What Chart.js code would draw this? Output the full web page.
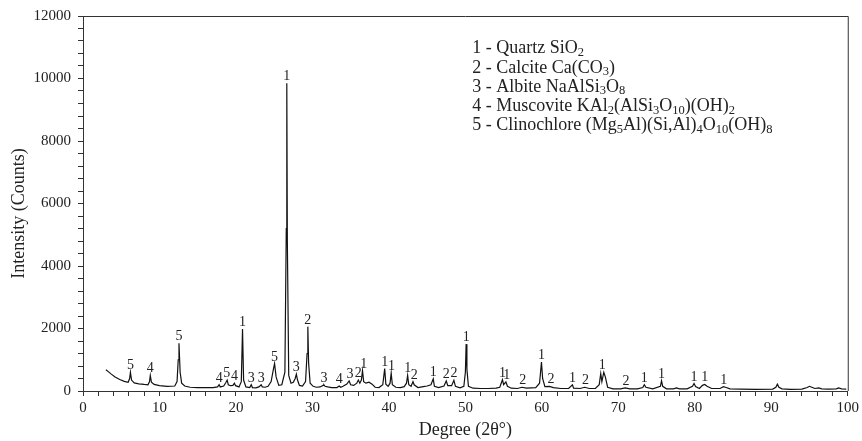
<!DOCTYPE html>
<html>
<head>
<meta charset="utf-8">
<script src="https://cdn.jsdelivr.net/npm/chart.js@4.4.1/dist/chart.umd.min.js"></script>
<style>
  html, body { margin: 0; padding: 0; background: #fff; }
  canvas { display: block; }
</style>
</head>
<body>
<canvas id="xrd" width="862" height="441"></canvas>
<script>
// Diffraction angle (2θ, degrees) and measured intensity (counts)
const twoTheta = [
  3.0, 3.3, 3.7, 4.2, 4.8, 5.4, 5.9, 6.1, 6.2, 6.35, 6.7, 7.3, 8.0, 8.5, 8.7, 8.8, 8.95, 9.3, 10.0, 11.0,
  12.0, 12.3, 12.45, 12.55, 12.7, 12.9, 13.3, 14.0, 15.0, 16.0, 17.0, 17.6, 17.8, 17.95, 18.4, 18.7, 18.85, 19.0, 19.3, 19.6,
  19.8, 19.95, 20.4, 20.7, 20.86, 21.0, 21.3, 21.8, 22.0, 22.15, 22.6, 23.0, 23.3, 23.45, 23.8, 24.2, 24.6, 24.9, 25.05, 25.25,
  25.6, 26.0, 26.4, 26.58, 26.65, 26.72, 26.9, 27.2, 27.5, 27.75, 27.9, 28.05, 28.3, 28.7, 29.1, 29.3, 29.4, 29.5, 29.7, 30.1,
  30.5, 31.0, 31.4, 31.5, 31.65, 32.0, 32.5, 33.2, 33.5, 33.7, 34.0, 34.5, 34.8, 35.0, 35.4, 35.8, 36.0, 36.2, 36.4, 36.55,
  36.7, 37.0, 37.4, 37.8, 38.2, 38.7, 39.2, 39.45, 39.6, 39.9, 40.15, 40.3, 40.45, 40.9, 41.5, 42.0, 42.3, 42.45, 42.6, 42.9,
  43.15, 43.3, 43.8, 44.5, 45.0, 45.5, 45.8, 45.95, 46.5, 47.2, 47.5, 47.7, 48.2, 48.5, 48.7, 49.3, 49.8, 50.0, 50.1, 50.2,
  50.4, 51.0, 52.0, 53.0, 54.0, 54.5, 54.85, 55.0, 55.3, 55.5, 56.0, 56.8, 57.4, 58.0, 59.2, 59.7, 59.95, 60.1, 60.4, 61.0,
  61.5, 62.5, 63.5, 64.0, 64.15, 65.0, 65.6, 66.2, 67.0, 67.5, 67.7, 67.85, 68.1, 68.3, 68.6, 69.3, 70.3, 70.9, 71.5, 72.5,
  73.2, 73.4, 73.6, 74.5, 75.5, 75.65, 75.8, 76.3, 77.2, 77.6, 78.0, 79.0, 79.7, 79.9, 80.1, 80.6, 81.0, 81.3, 81.6, 82.2,
  83.3, 83.75, 84.0, 84.6, 86.0, 88.0, 90.2, 90.6, 90.8, 91.0, 91.4, 92.5, 94.0, 94.7, 95.0, 95.3, 95.7, 96.2, 96.6, 97.5,
  98.5, 98.8, 99.2, 99.8
];
const counts = [
  680, 620, 540, 450, 370, 310, 280, 400, 600, 350, 260, 230, 210, 200, 300, 500, 280, 210, 170, 150,
  160, 300, 1000, 1530, 600, 250, 160, 120, 110, 110, 110, 130, 200, 130, 160, 280, 350, 200, 170, 180,
  250, 170, 130, 300, 1980, 350, 130, 110, 200, 110, 100, 130, 200, 130, 120, 150, 300, 700, 880, 450,
  180, 200, 600, 5200, 9850, 4800, 500, 250, 280, 400, 540, 350, 180, 160, 300, 1200, 2060, 900, 250, 150,
  120, 130, 180, 200, 150, 130, 110, 110, 160, 120, 150, 220, 320, 200, 180, 250, 350, 250, 350, 650,
  300, 250, 280, 220, 120, 110, 200, 720, 220, 150, 250, 570, 200, 120, 110, 140, 250, 500, 200, 150,
  300, 200, 110, 140, 160, 200, 390, 150, 110, 160, 320, 170, 170, 340, 150, 100, 150, 600, 1500, 700,
  150, 90, 80, 80, 90, 120, 360, 200, 290, 150, 90, 80, 120, 90, 110, 250, 930, 400, 140, 150,
  110, 80, 80, 200, 90, 80, 120, 80, 80, 200, 560, 300, 600, 450, 120, 70, 70, 100, 70, 70,
  110, 200, 120, 70, 150, 330, 150, 70, 70, 100, 70, 70, 150, 240, 140, 80, 180, 210, 150, 80,
  80, 140, 120, 70, 60, 55, 60, 120, 220, 120, 70, 55, 60, 110, 150, 120, 80, 100, 70, 60,
  70, 100, 70, 60
];

// Phase markers placed over the peaks (2θ position, phase number)
const peakMarkAngles = [
  6.2, 8.8, 12.55, 17.8, 18.8, 19.8, 20.86, 22.0, 23.3, 25.05, 26.65, 27.9, 29.4, 31.5, 33.5, 34.9, 36.0, 36.7,
  39.45, 40.35, 42.45, 43.3, 45.8, 47.5, 48.5, 50.1, 54.85, 55.4, 57.5, 59.95, 61.2, 64.0, 65.7, 67.9, 71.0,
  73.4, 75.65, 79.9, 81.3, 83.8
];
const peakMarkPhases = [
  '5', '4', '5', '4', '5', '4', '1', '3', '3', '5', '1', '3', '2', '3', '4', '3', '2', '1',
  '1', '1', '1', '2', '1', '2', '2', '1', '1', '1', '2', '1', '2', '1', '2', '1', '2',
  '1', '1', '1', '1', '1'
];

// Phase key; _{..} marks a subscript
const phaseKey = [
  '1 - Quartz SiO_{2}',
  '2 - Calcite Ca(CO_{3})',
  '3 - Albite NaAlSi_{3}O_{8}',
  '4 - Muscovite KAl_{2}(AlSi_{3}O_{10})(OH)_{2}',
  '5 - Clinochlore (Mg_{5}Al)(Si,Al)_{4}O_{10}(OH)_{8}'
];

const SERIF = '"Liberation Serif", "Times New Roman", "DejaVu Serif", serif';
const INK = '#222';

const points = twoTheta.map((t, i) => ({ x: t, y: counts[i] }));

function drawRich(ctx, str, x, y) {
  const parts = str.split(/(_\{[^}]*\})/).filter(s => s.length);
  let cx = x;
  for (const p of parts) {
    if (p.startsWith('_{')) {
      const t = p.slice(2, -1);
      ctx.font = '12.5px ' + SERIF;
      ctx.fillText(t, cx, y + 4);
      cx += ctx.measureText(t).width;
    } else {
      ctx.font = '18px ' + SERIF;
      ctx.fillText(p, cx, y);
      cx += ctx.measureText(p).width;
    }
  }
}

const annotations = {
  id: 'annotations',
  afterDatasetsDraw(chart) {
    const { ctx, chartArea, scales } = chart;
    const xs = scales.x, ys = scales.y;
    ctx.save();
    // frame around the plot
    ctx.strokeStyle = '#333';
    ctx.lineWidth = 1;
    ctx.beginPath();
    ctx.moveTo(chartArea.left, chartArea.top + 0.5);
    ctx.lineTo(chartArea.right + 0.5, chartArea.top + 0.5);
    ctx.lineTo(chartArea.right + 0.5, chartArea.bottom);
    ctx.stroke();

    // phase numbers above peaks
    ctx.fillStyle = INK;
    ctx.font = '14px ' + SERIF;
    ctx.textAlign = 'center';
    ctx.textBaseline = 'alphabetic';
    peakMarkAngles.forEach((a, i) => {
      let top = 0;
      twoTheta.forEach((t, j) => {
        if (Math.abs(t - a) <= 0.35 && counts[j] > top) top = counts[j];
      });
      ctx.fillText(peakMarkPhases[i], xs.getPixelForValue(a), ys.getPixelForValue(top) - 3);
    });

    // phase key
    ctx.textAlign = 'left';
    ctx.textBaseline = 'middle';
    const kx = xs.getPixelForValue(50.9);
    const ky = ys.getPixelForValue(10960);
    phaseKey.forEach((s, i) => drawRich(ctx, s, kx, ky + i * 19.3));

    // vertical axis title
    ctx.font = '18px ' + SERIF;
    ctx.textAlign = 'center';
    ctx.translate(19, (chartArea.top + chartArea.bottom) / 2 + 10);
    ctx.rotate(-Math.PI / 2);
    ctx.fillText('Intensity (Counts)', 0, 0);
    ctx.restore();
  }
};

new Chart(document.getElementById('xrd'), {
  type: 'scatter',
  data: {
    datasets: [{
      data: points,
      showLine: true,
      borderColor: '#111',
      borderWidth: 1.2,
      pointRadius: 0,
      tension: 0,
      fill: false
    }]
  },
  options: {
    responsive: false,
    animation: false,
    layout: { padding: { top: 16, right: 11, left: 0, bottom: 0 } },
    plugins: { legend: { display: false }, tooltip: { enabled: false } },
    scales: {
      x: {
        type: 'linear',
        min: 0,
        max: 100,
        afterFit: s => { s.height = 50; },
        ticks: {
          stepSize: 2,
          autoSkip: false,
          maxRotation: 0,
          padding: 3,
          color: INK,
          font: { family: SERIF, size: 15 },
          callback: v => (v % 10 === 0 ? String(v) : '')
        },
        grid: { drawOnChartArea: false, drawTicks: true, tickLength: 5, color: '#333' },
        border: { color: '#333', width: 1 },
        title: {
          display: true,
          text: 'Degree (2θ°)',
          color: INK,
          font: { family: SERIF, size: 18 },
          padding: { top: 0, bottom: 0 }
        }
      },
      y: {
        min: 0,
        max: 12000,
        afterFit: s => { s.width = 83; },
        ticks: {
          stepSize: 400,
          autoSkip: false,
          padding: 7,
          color: INK,
          font: { family: SERIF, size: 15 },
          callback: v => (v % 2000 === 0 ? String(v) : '')
        },
        grid: { drawOnChartArea: false, drawTicks: true, tickLength: 5, color: '#333' },
        border: { color: '#333', width: 1 },
        title: { display: false }
      }
    }
  },
  plugins: [annotations]
});
</script>
</body>
</html>
